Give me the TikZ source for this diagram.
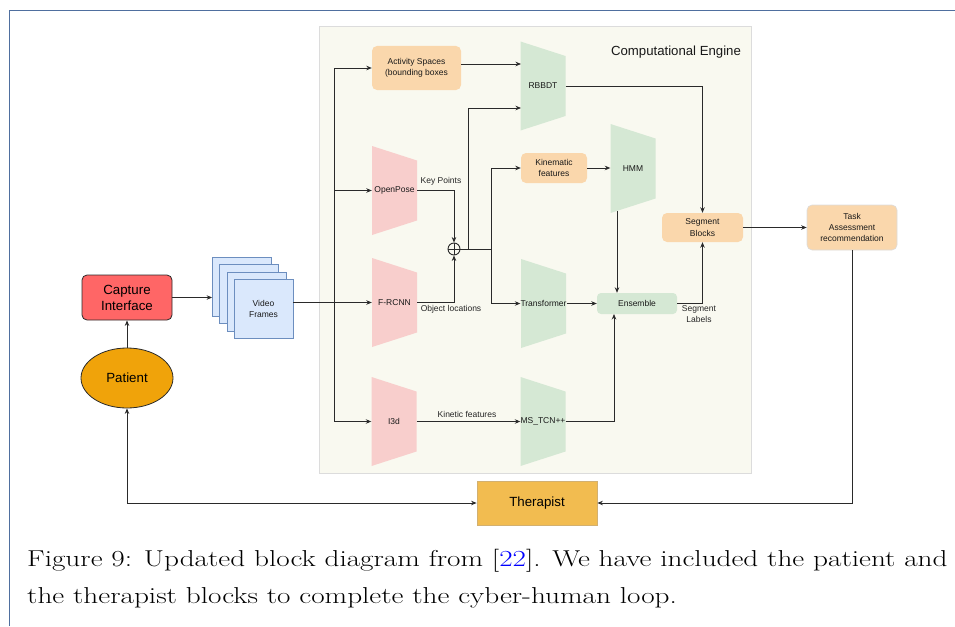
\documentclass[tikz,border=0pt]{standalone}
\usepackage{fontspec}
\newfontfamily\arialf{Liberation Sans}
\usetikzlibrary{arrows.meta,shapes.geometric,calc}
\definecolor{pagebd}{HTML}{4F6F9F}
\definecolor{engfill}{HTML}{F9F9F0}
\definecolor{engbd}{HTML}{DCDCDC}
\definecolor{pinkf}{HTML}{F8CECC}
\definecolor{greenf}{HTML}{D5E8D4}
\definecolor{orangef}{HTML}{FAD7AC}
\definecolor{capf}{HTML}{FF6666}
\definecolor{patf}{HTML}{F0A30A}
\definecolor{therf}{HTML}{F2BC50}
\definecolor{therbd}{HTML}{D2B070}
\definecolor{vff}{HTML}{DAE8FC}
\definecolor{vfbd}{HTML}{6C8EBF}
\definecolor{ln}{HTML}{2A2A2A}
\definecolor{refblue}{HTML}{0000FF}
\tikzset{
  arr/.style={draw=ln, line width=0.8pt, -{Stealth[length=5.5pt,width=4.5pt]}},
  darr/.style={draw=ln, line width=0.8pt, {Stealth[length=5.5pt,width=4.5pt]}-{Stealth[length=5.5pt,width=4.5pt]}},
  plain/.style={draw=ln, line width=0.8pt},
  small/.style={font=\arialf\fontsize{8.5}{11.5}\selectfont, text=black!90, align=center},
  lbl/.style={font=\arialf\fontsize{8.5}{11}\selectfont, text=black!85, align=center, inner sep=0pt},
  big/.style={font=\arialf\fontsize{13.3}{16}\selectfont, text=black, align=center},
  orbox/.style={small, rectangle, rounded corners=5pt, fill=orangef, inner sep=0pt},
  trapnode/.style={small, rectangle, minimum width=45pt, minimum height=60pt, inner sep=0pt},
  vfsq/.style={rectangle, fill=vff, draw=vfbd, line width=0.8pt, minimum width=59pt, minimum height=59pt, inner sep=0pt},
  captext/.style={anchor=base west, inner sep=0pt, font=\fontsize{23}{28}\selectfont},
}
\newcommand{\trapz}[5]{%
  \begin{scope}[shift={(#2,#3)}]
    \fill[#5] (-22.5,-44.5) -- (22.5,-30) -- (22.5,30) -- (-22.5,44.5) -- cycle;
    \node[trapnode] (#1) at (0,0) {#4};
  \end{scope}}
\begin{document}
\begin{tikzpicture}[x=1pt,y=-1pt]
\useasboundingbox (0,0) rectangle (955,626);
% page frame
\draw[pagebd, line width=1.6pt] (9.5,626) -- (9.5,10.5) -- (955,10.5);
% computational engine background
\node[rectangle, fill=engfill, draw=engbd, line width=0.8pt, minimum width=432pt, minimum height=447pt, inner sep=0pt] (eng) at (535,249.5) {};
\node[font=\arialf\fontsize{13.2}{15}\selectfont, text=black!90] (engt) at (676,52) {Computational Engine};

% trapezoids
\trapz{op}{394.5}{190.5}{OpenPose}{pinkf}
\trapz{fr}{394.5}{302.5}{F-RCNN}{pinkf}
\trapz{i3}{394}{421.5}{I3d}{pinkf}
\trapz{rb}{543}{86}{RBBDT}{greenf}
\trapz{hmm}{633}{168.5}{HMM}{greenf}
\trapz{tr}{543.5}{303.5}{Transformer}{greenf}
\trapz{ms}{543}{421.5}{MS\_TCN++}{greenf}

% boxes
\node[orbox, minimum width=89pt, minimum height=44pt] (act) at (416.5,68) {Activity Spaces\\(bounding boxes};
\node[orbox, minimum width=66pt, minimum height=30pt] (kin) at (554,168) {Kinematic\\features};
\node[orbox, minimum width=81pt, minimum height=29pt] (seg) at (702.5,227.5) {Segment\\Blocks};
\node[orbox, draw=engbd, line width=0.6pt, minimum width=90pt, minimum height=45pt, font=\arialf\fontsize{8.5}{11}\selectfont] (task) at (852,227.5) {Task\\Assessment\\recommendation};
\node[small, rectangle, rounded corners=4pt, fill=greenf, minimum width=80pt, minimum height=21pt, inner sep=0pt] (ens) at (637,303.5) {Ensemble};
\node[draw=ln, line width=0.9pt, circle, minimum size=12pt, inner sep=0pt, fill=engfill] (plus) at (454,249) {};
\draw[ln, line width=0.8pt] (plus.north) -- (plus.south) (plus.west) -- (plus.east);

\node[big, rectangle, rounded corners=5pt, fill=capf, draw=ln, line width=0.8pt, minimum width=90pt, minimum height=45pt, inner sep=0pt] (cap) at (127,297.5) {Capture\\Interface};
\node[big, ellipse, fill=patf, draw=ln, line width=0.8pt, minimum width=92pt, minimum height=60pt, inner sep=0pt] (pat) at (127,378) {Patient};
\node[big, rectangle, fill=therf, draw=therbd, line width=0.8pt, minimum width=120pt, minimum height=44pt, inner sep=0pt] (ther) at (537,503) {Therapist};

% video frames
\node[vfsq] (vf1) at (242,287) {};
\node[vfsq] (vf2) at (249,294) {};
\node[vfsq] (vf3) at (256.5,302) {};
\node[vfsq, small] (vf4) at (263.5,309) {Video\\Frames};

% helper coordinates
\coordinate (br) at (334,302.5);
\coordinate (rb1) at (521,64);
\coordinate (rb2) at (521,108);
\coordinate (j1) at (468,249);
\coordinate (j2) at (491,249);
\coordinate (hb) at (617,211);
\coordinate (es) at (614,314);

% connectors
\draw[arr] (cap.east) -- (cap.east -| vf1.west);
\draw[arr] (vf4.east |- fr.west) -- (fr.west);
\draw[arr] (br) |- (act.west);
\draw[arr] (br) |- (op.west);
\draw[arr] (br) |- (i3.west);
\draw[arr] (act.east |- rb1) -- (rb1);
\draw[arr] (op.east) -| (plus.north);
\draw[arr] (fr.east) -| (plus.south);
\draw[plain] (plus.east) -- (j2);
\draw[arr] (j1) |- (rb2);
\draw[arr] (j2) |- (kin.west);
\draw[arr] (j2) |- (tr.west);
\draw[arr] (kin.east) -- (kin.east -| hmm.west);
\draw[arr] (rb.east) -| (seg.north);
\draw[arr] (tr.east |- ens.west) -- (ens.west);
\draw[arr] (hb) -- (hb |- ens.north);
\draw[arr] (ms.east) -| (es);
\draw[arr] (ens.east) -| (seg.south);
\draw[arr] (seg.east) -- (task.west);
\draw[arr] (task.south) |- (ther.east);
\draw[darr] (ther.west) -| (pat.south);
\draw[arr] (pat.north) -- (cap.south);
\draw[arr] (i3.east) -- (ms.west);

% labels
\node[lbl] (kp) at (441,181) {Key Points};
\node[lbl] (ol) at (451,309) {Object locations};
\node[lbl] (kf) at (467,414) {Kinetic features};
\node[lbl] (sl) at (699,314.5) {Segment\\Labels};

% caption
\node[captext] (cap1) at (27,566) {\scalebox{1.27}[1]{Figure 9: Updated block diagram from [{\color{refblue}22}]. We have included the patient and}};
\node[captext] (cap2) at (27,603) {\scalebox{1.27}[1]{the therapist blocks to complete the cyber-human loop.}};
\end{tikzpicture}
\end{document}
